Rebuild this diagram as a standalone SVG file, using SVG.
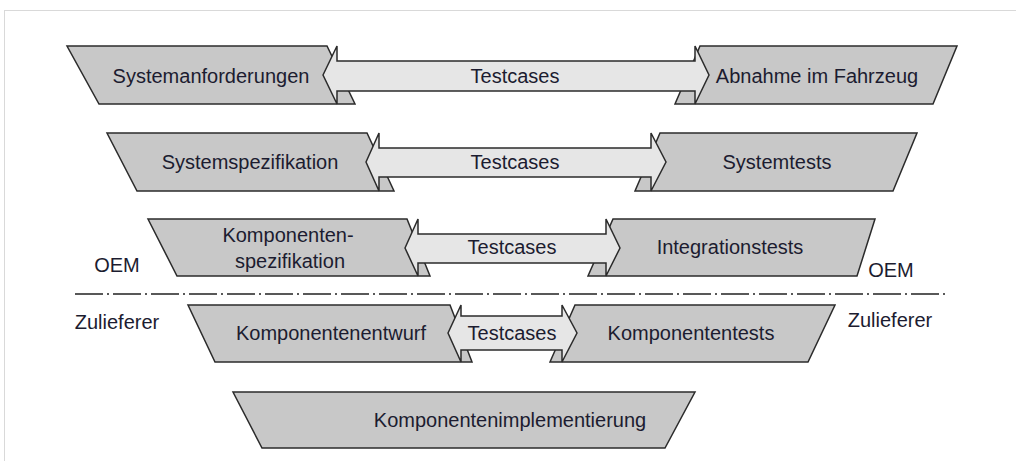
<svg xmlns="http://www.w3.org/2000/svg" width="1016" height="461" viewBox="0 0 1016 461">
  <style>
    .frame { fill: none; stroke: #d9d9d9; stroke-width: 1; }
    .box { fill: #c8c8c8; stroke: #2b2b2b; stroke-width: 1.5; stroke-linejoin: miter; }
    .arrow { fill: #e6e6e6; stroke: #2b2b2b; stroke-width: 1.5; stroke-linejoin: miter; }
    .lbl { font-family: "Liberation Sans", Arial, sans-serif; font-size: 20px; fill: #1c1c30; text-anchor: middle; }
    .divider { stroke: #222; stroke-width: 1.5; stroke-dasharray: 28 4 2 4; fill: none; }
  </style>

  <rect x="0" y="0" width="1016" height="461" fill="#ffffff"/>
  <rect class="frame" x="4.5" y="10.5" width="1100" height="500"/>

  <!-- level 1 -->
  <g id="systemanforderungen">
    <polygon class="box" points="67,46 327,46 355,104 99,104"/>
    <text class="lbl" x="211" y="83">Systemanforderungen</text>
  </g>
  <g id="abnahme">
    <polygon class="box" points="700,46 957,46 933,104 675,104"/>
    <text class="lbl" x="817" y="83">Abnahme im Fahrzeug</text>
  </g>

  <!-- level 2 -->
  <g id="systemspezifikation">
    <polygon class="box" points="107,133 367,133 394,191 137,191"/>
    <text class="lbl" x="250" y="169">Systemspezifikation</text>
  </g>
  <g id="systemtests">
    <polygon class="box" points="660,133 917,133 893,191 635,191"/>
    <text class="lbl" x="777" y="169">Systemtests</text>
  </g>

  <!-- level 3 -->
  <g id="komponentenspezifikation">
    <polygon class="box" points="148,219 407,219 430,276 177,276"/>
    <text class="lbl" x="288" y="242">Komponenten-</text>
    <text class="lbl" x="290" y="268">spezifikation</text>
  </g>
  <g id="integrationstests">
    <polygon class="box" points="613,219 875,219 857,276 588,276"/>
    <text class="lbl" x="730" y="254">Integrationstests</text>
  </g>

  <!-- level 4 -->
  <g id="komponentenentwurf">
    <polygon class="box" points="188,305 450,305 472,362 215,362"/>
    <text class="lbl" x="331" y="340">Komponentenentwurf</text>
  </g>
  <g id="komponententests">
    <polygon class="box" points="575,305 835,305 808,362 550,362"/>
    <text class="lbl" x="691" y="340">Komponententests</text>
  </g>

  <!-- level 5 -->
  <g id="komponentenimplementierung">
    <polygon class="box" points="233,392 695,392 665,448 262,448"/>
    <text class="lbl" x="510" y="427">Komponentenimplementierung</text>
  </g>

  <!-- OEM / supplier boundary -->
  <g id="boundary">
    <line class="divider" x1="75" y1="294" x2="947" y2="294"/>
    <text class="lbl" x="117" y="272">OEM</text>
    <text class="lbl" x="891" y="277">OEM</text>
    <text class="lbl" x="117" y="329">Zulieferer</text>
    <text class="lbl" x="890" y="327">Zulieferer</text>
  </g>

  <!-- double arrows linking each level -->
  <g id="connectors">
    <path class="arrow" d="M323,75 L337,46 L337,61 L695,61 L695,46 L709,75 L695,104 L695,91 L337,91 L337,104 Z"/>
    <text class="lbl" x="515" y="83">Testcases</text>

    <path class="arrow" d="M366,162 L379,133 L379,148 L651,148 L651,133 L666,162 L651,191 L651,177 L379,177 L379,191 Z"/>
    <text class="lbl" x="515" y="169">Testcases</text>

    <path class="arrow" d="M405,248 L418,219 L418,234 L606,234 L606,219 L620,248 L606,276 L606,263 L418,263 L418,276 Z"/>
    <text class="lbl" x="512" y="254">Testcases</text>

    <path class="arrow" d="M448,333 L461,305 L461,316 L562,316 L562,305 L577,333 L562,362 L562,350 L461,350 L461,362 Z"/>
    <text class="lbl" x="512" y="340">Testcases</text>
  </g>
</svg>
